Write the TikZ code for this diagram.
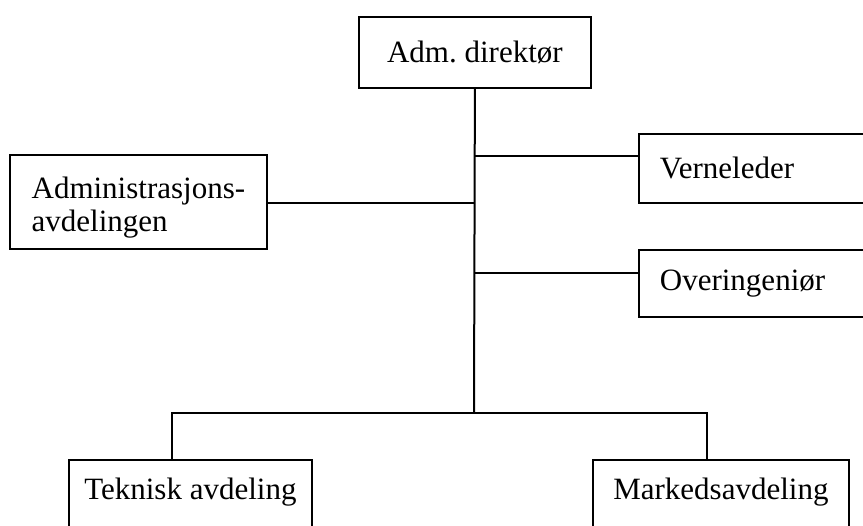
\documentclass[tikz,border=0pt]{standalone}
\usepackage{fontspec}
\setmainfont{Liberation Serif}

\begin{document}
\frenchspacing
\begin{tikzpicture}[x=1pt, y=-1pt,
	orgbox/.style={draw, line width=1.8pt, anchor=north west, align=left, inner xsep=21pt, inner ysep=0pt, font=\fontsize{31}{33}\selectfont},
	lowbox/.style={orgbox, inner xsep=12pt, inner ysep=19pt, text height=21pt, text depth=40pt},
	orgline/.style={line width=2pt}]

		\useasboundingbox (0,0) rectangle (863,526);
		\clip (0,0) rectangle (863,526);

		\node[orgbox, minimum width=232pt, minimum height=71pt] (adm) at (358,16) {Adm. direkt\o r};
		\node[orgbox, minimum width=257pt, minimum height=94pt] (admin) at (9,154) {\rule{0pt}{32pt}Administrasjons-\\avdelingen};
		\node[orgbox, text width=218pt, minimum height=69pt] (verne) at (638,133) {Verneleder};
		\node[orgbox, text width=218pt, minimum height=67pt] (over) at (638,249) {Overingeni\o r};
		\node[lowbox, minimum width=243pt] (tekn) at (68,459) {Teknisk avdeling};
		\node[lowbox, minimum width=256pt] (mark) at (592,459) {Markedsavdeling};

		\coordinate (jv) at (474,156);
		\coordinate (ja) at (474,203);
		\coordinate (jo) at (474,273);
		\coordinate (hub) at (474,413);
		\coordinate (tl) at (172,413);
		\coordinate (mr) at (707,413);

		\draw[orgline] (adm.south) -- (hub);
		\draw[orgline] (jv) -- (jv -| verne.west);
		\draw[orgline] (ja) -- (ja -| admin.east);
		\draw[orgline] (jo) -- (jo -| over.west);
		\draw[orgline] (tl |- tekn.north) -- (tl) -- (mr) -- (mr |- mark.north);
	\end{tikzpicture}
\end{document}
